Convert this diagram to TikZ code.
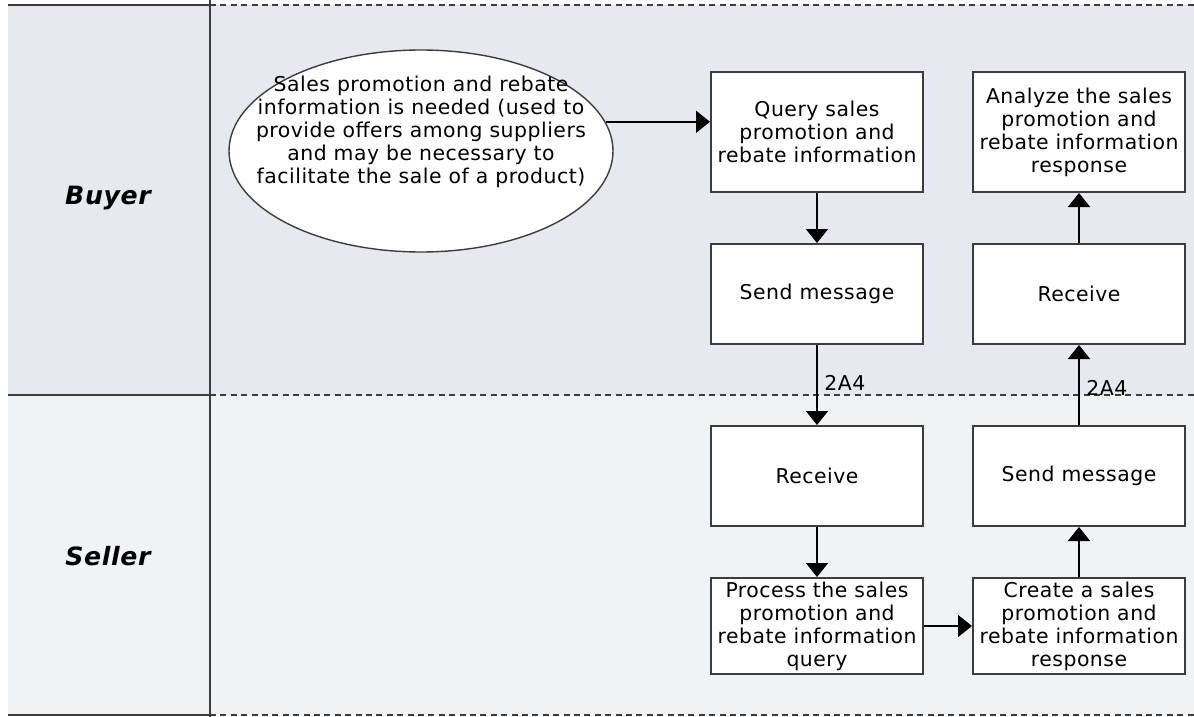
\documentclass[tikz,border=0pt]{standalone}
\usepackage{fontspec}
\setmainfont{DejaVu Sans}[LetterSpace=2.5]
\usetikzlibrary{arrows.meta, positioning, shapes.geometric}
\definecolor{buyerbg}{RGB}{231,233,240}
\definecolor{sellerbg}{RGB}{239,243,246}
\definecolor{laneline}{RGB}{60,60,60}

\begin{document}
\begin{tikzpicture}[x=0.5pt, y=-0.5pt, >={Triangle[length=7pt, width=11pt]}, node distance=25pt and 24pt]
    \tikzstyle{task} = [draw=laneline, line width=1pt, fill=white, align=center, minimum width=106pt, minimum height=50pt, inner sep=1pt, font=\fontsize{10.2}{11.5}\selectfont]
    \tikzstyle{lanename} = [font=\fontsize{12.6}{14}\selectfont\bfseries\itshape]
    \tikzstyle{flow} = [->, line width=0.8pt]
    \useasboundingbox (0,0) rectangle (1194,717);
    \fill[white] (0,0) rectangle (1194,717);
    % swimlanes
    \fill[buyerbg] (8,5) rectangle (1194,395);
    \fill[sellerbg] (8,395) rectangle (1194,715);
    \draw[laneline, line width=1pt] (8,5) -- (210,5) (8,395) -- (210,395) (8,715) -- (210,715);
    \draw[laneline, line width=0.8pt] (210,0) -- (210,717);
    \draw[laneline, line width=0.7pt, dash pattern=on 3pt off 2.2pt] (210,5) -- (1194,5) (210,395) -- (1194,395) (210,715) -- (1194,715);
    \node [lanename] at (108,198) (buyer) {Buyer};
    \node [lanename] at (108,556) (seller) {Seller};
    % start event
    \node [ellipse, draw=laneline, line width=0.7pt, fill=white, minimum width=192pt, minimum height=101pt, inner sep=0pt,
           label={[align=center, font=\fontsize{10.2}{11.5}\selectfont, yshift=9.5pt]center:Sales promotion and rebate\\information is needed (used to\\provide offers among suppliers\\and may be necessary to\\facilitate the sale of a product)}] at (421,151) (need) {};
    % buyer column
    \node [task, minimum height=60pt] at (817,132) (query) {Query sales\\promotion and\\rebate information};
    \node [task, below=of query] (sendb) {Send message};
    \node [task, below=40pt of sendb] (recvs) {Receive};
    \node [task, minimum height=48pt, below=of recvs] (proc) {Process the sales\\promotion and\\rebate information\\query};
    % seller column
    \node [task, minimum height=48pt, right=of proc] (create) {Create a sales\\promotion and\\rebate information\\response};
    \node [task, right=of recvs] (sends) {Send message};
    \node [task, right=of sendb] (recvb) {Receive};
    \node [task, minimum height=60pt, right=of query] (analyze) {Analyze the sales\\promotion and\\rebate information\\response};
    % flows
    \draw[flow] (need.9) -- (need.9 -| query.west);
    \draw[flow] (query) -- (sendb);
    \draw[flow] (sendb) -- node[right, pos=0.47, font=\fontsize{10.2}{11.5}\selectfont] {2A4} (recvs);
    \draw[flow] (recvs) -- (proc);
    \draw[flow] (proc) -- (create);
    \draw[flow] (create) -- (sends);
    \draw[flow] (sends) -- node[right, pos=0.46, font=\fontsize{10.2}{11.5}\selectfont] {2A4} (recvb);
    \draw[flow] (recvb) -- (analyze);
\end{tikzpicture}
\end{document}
